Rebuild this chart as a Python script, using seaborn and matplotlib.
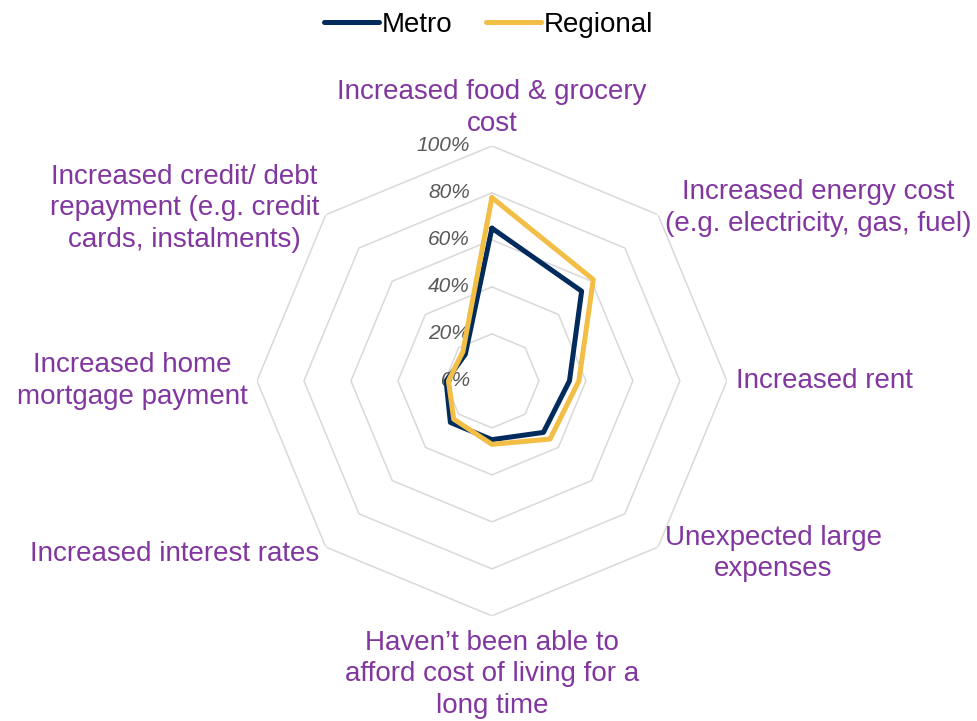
import numpy as np
import pandas as pd
import matplotlib
matplotlib.use('Agg')
import matplotlib.pyplot as plt
import matplotlib.transforms as mtransforms
import seaborn as sns

# data (% of respondents), clockwise from the top
categories = ['Increased food & grocery\ncost',
              'Increased energy cost\n(e.g. electricity, gas, fuel)',
              'Increased rent',
              'Unexpected large\nexpenses',
              'Haven\u2019t been able to\nafford cost of living for a\nlong time',
              'Increased interest rates',
              'Increased home\nmortgage payment',
              'Increased credit/ debt\nrepayment (e.g. credit\ncards, instalments)']
metro = [65, 54, 33, 31, 25, 25, 19.5, 16]
regional = [78, 61, 37, 35, 27, 23, 18.5, 17.5]
ring_levels = [20, 40, 60, 80, 100]
tick_levels = [0, 20, 40, 60, 80, 100]

series_names = ['Metro', 'Regional']
series_colors = ['#002B5C', '#F2BE45']
purple = '#8236A0'

sns.set_style('white')
plt.rcParams['font.family'] = ['Liberation Sans', 'DejaVu Sans']

n = len(categories)
theta = np.linspace(0, 2 * np.pi, n, endpoint=False)
theta_closed = np.append(theta, 2 * np.pi)

# long form table, loop closed by repeating the first point
rows = []
for name, vals in zip(series_names, [metro, regional]):
    v = list(vals) + [vals[0]]
    for t, r in zip(theta_closed, v):
        rows.append({'theta': t, 'value': r, 'series': name})
df = pd.DataFrame(rows)

fig = plt.figure(figsize=(9.77, 7.21), dpi=100)
ax = fig.add_axes([0.263, 0.1457, 0.481, 0.652], projection='polar')
ax.set_theta_offset(np.pi / 2)
ax.set_theta_direction(-1)

# octagon rings instead of circles
for lv in ring_levels:
    ax.plot(theta_closed, [lv] * (n + 1), color='#D9D9D9', lw=1.1, zorder=1)

for name, col in zip(series_names, series_colors):
    sns.lineplot(data=df[df.series == name], x='theta', y='value',
                 sort=False, estimator=None, color=col, lw=3.6,
                 label=name, ax=ax, zorder=3)

ax.set_ylim(0, 100)
ax.set_xticks([])
ax.set_yticks([])
ax.grid(False)
ax.spines['polar'].set_visible(False)
ax.set_xlabel('')
ax.set_ylabel('')

# radial tick labels, left of the top spoke
off = mtransforms.offset_copy(ax.transData, fig=fig, x=-22, y=0, units='dots')
for lv in tick_levels:
    ax.text(0, lv, f'{lv}%', transform=off, ha='right', va='center',
            fontsize=15, style='italic', color='#595959', zorder=2)

# category labels just outside the 100% ring
aligns = [('center', 'bottom'), ('left', 'center'), ('left', 'center'),
          ('left', 'center'), ('center', 'top'), ('right', 'center'),
          ('right', 'center'), ('right', 'center')]
radii = [104, 104, 104, 104, 106, 104, 104, 104]
for t, lab, (ha, va), rr in zip(theta, categories, aligns, radii):
    ax.text(t, rr, lab, ha=ha, va=va, multialignment='center',
            fontsize=20, color=purple, linespacing=1.27, clip_on=False)

leg = ax.legend(loc='upper center', bbox_to_anchor=(0.5, 1.018),
                bbox_transform=fig.transFigure, ncol=2, frameon=False,
                fontsize=20, handlelength=2.0, handletextpad=0.1,
                columnspacing=1.2)
for txt in leg.get_texts():
    txt.set_color('black')

fig.savefig('out.png', dpi=100)
